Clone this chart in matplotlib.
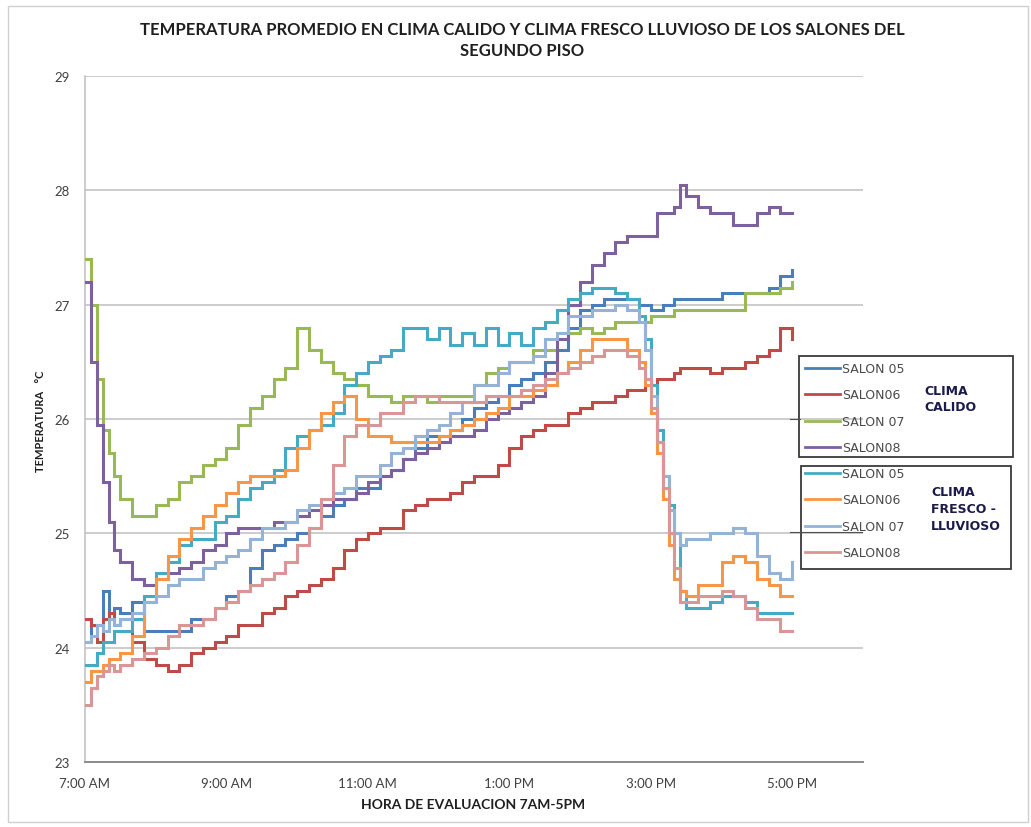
import matplotlib
matplotlib.use("Agg")
import matplotlib.pyplot as plt
from matplotlib.patches import Rectangle

# ---------------- data ----------------
horas = ["7:00", "7:05", "7:10", "7:15", "7:20", "7:25", "7:30", "7:40", "7:50",
         "8:00", "8:10", "8:20", "8:30", "8:40", "8:50",
         "9:00", "9:10", "9:20", "9:30", "9:40", "9:50",
         "10:00", "10:10", "10:20", "10:30", "10:40", "10:50",
         "11:00", "11:10", "11:20", "11:30", "11:40", "11:50",
         "12:00", "12:10", "12:20", "12:30", "12:40", "12:50",
         "13:00", "13:10", "13:20", "13:30", "13:40", "13:50",
         "14:00", "14:10", "14:20", "14:30", "14:40", "14:50", "14:55",
         "15:00", "15:05", "15:10", "15:15", "15:20", "15:25", "15:30", "15:40", "15:50",
         "16:00", "16:10", "16:20", "16:30", "16:40", "16:50",
         "17:00"]

# Clima calido
salon05_calido = [24.05, 24.2, 24.2, 24.5, 24.25, 24.35, 24.3, 24.4, 24.15,
                  24.15, 24.15, 24.15, 24.25, 24.25, 24.35,
                  24.45, 24.5, 24.7, 24.85, 24.9, 24.95,
                  25.0, 25.05, 25.15, 25.25, 25.3, 25.4,
                  25.4, 25.5, 25.55, 25.65, 25.75, 25.85,
                  25.85, 25.9, 26.0, 26.1, 26.15, 26.2,
                  26.3, 26.35, 26.4, 26.5, 26.6, 26.8,
                  26.95, 27.0, 27.05, 27.05, 27.05, 27.0, 27.0,
                  26.95, 26.95, 27.0, 27.0, 27.05, 27.05, 27.05, 27.05, 27.05,
                  27.1, 27.1, 27.1, 27.1, 27.15, 27.25,
                  27.3]
salon06_calido = [24.25, 24.2, 24.05, 24.25, 24.3, 24.2, 24.25, 24.05, 23.9,
                  23.85, 23.8, 23.85, 23.95, 24.0, 24.05,
                  24.1, 24.2, 24.2, 24.3, 24.35, 24.45,
                  24.5, 24.55, 24.6, 24.7, 24.85, 24.95,
                  25.0, 25.05, 25.05, 25.2, 25.25, 25.3,
                  25.3, 25.35, 25.45, 25.5, 25.5, 25.6,
                  25.75, 25.85, 25.9, 25.95, 25.95, 26.05,
                  26.1, 26.15, 26.15, 26.2, 26.25, 26.25, 26.3,
                  26.3, 26.35, 26.35, 26.35, 26.4, 26.45, 26.45, 26.45, 26.4,
                  26.45, 26.45, 26.5, 26.55, 26.6, 26.8,
                  26.7]
salon07_calido = [27.4, 27.0, 26.35, 25.9, 25.7, 25.5, 25.3, 25.15, 25.15,
                  25.25, 25.3, 25.45, 25.5, 25.6, 25.65,
                  25.75, 25.95, 26.1, 26.2, 26.35, 26.45,
                  26.8, 26.6, 26.5, 26.4, 26.35, 26.3,
                  26.2, 26.2, 26.15, 26.2, 26.2, 26.15,
                  26.2, 26.2, 26.2, 26.3, 26.4, 26.45,
                  26.5, 26.5, 26.6, 26.6, 26.7, 26.75,
                  26.8, 26.75, 26.8, 26.85, 26.85, 26.85, 26.85,
                  26.9, 26.9, 26.9, 26.9, 26.95, 26.95, 26.95, 26.95, 26.95,
                  26.95, 26.95, 27.1, 27.1, 27.1, 27.15,
                  27.2]
salon08_calido = [27.2, 26.5, 25.95, 25.45, 25.1, 24.85, 24.75, 24.6, 24.55,
                  24.6, 24.65, 24.7, 24.75, 24.85, 24.9,
                  25.0, 25.05, 25.05, 25.05, 25.1, 25.1,
                  25.15, 25.2, 25.25, 25.3, 25.3, 25.35,
                  25.45, 25.5, 25.55, 25.65, 25.7, 25.75,
                  25.8, 25.85, 25.85, 25.9, 26.0, 26.05,
                  26.1, 26.15, 26.2, 26.4, 26.7, 27.0,
                  27.2, 27.35, 27.45, 27.55, 27.6, 27.6, 27.6,
                  27.6, 27.8, 27.8, 27.8, 27.85, 28.05, 27.95, 27.85, 27.8,
                  27.8, 27.7, 27.7, 27.8, 27.85, 27.8,
                  27.8]

# Clima fresco - lluvioso
salon05_fresco = [23.85, 23.85, 23.95, 24.05, 24.05, 24.15, 24.15, 24.25, 24.45,
                  24.65, 24.75, 24.9, 24.95, 24.95, 25.1,
                  25.15, 25.3, 25.4, 25.45, 25.55, 25.75,
                  25.85, 25.9, 25.95, 26.05, 26.3, 26.4,
                  26.5, 26.55, 26.6, 26.8, 26.8, 26.7,
                  26.8, 26.65, 26.75, 26.65, 26.8, 26.65,
                  26.75, 26.65, 26.8, 26.85, 26.95, 27.05,
                  27.1, 27.15, 27.15, 27.1, 27.05, 26.9, 26.7,
                  26.3, 25.9, 25.5, 25.25, 25.0, 24.5, 24.35, 24.35, 24.4,
                  24.45, 24.45, 24.4, 24.3, 24.3, 24.3,
                  24.3]
salon06_fresco = [23.7, 23.8, 23.8, 23.85, 23.9, 23.9, 23.95, 24.1, 24.4,
                  24.6, 24.8, 24.95, 25.05, 25.15, 25.25,
                  25.35, 25.45, 25.5, 25.5, 25.5, 25.55,
                  25.75, 25.9, 26.05, 26.15, 26.2, 26.0,
                  25.85, 25.85, 25.8, 25.8, 25.8, 25.8,
                  25.85, 25.9, 25.95, 26.0, 26.05, 26.1,
                  26.2, 26.2, 26.25, 26.3, 26.4, 26.5,
                  26.6, 26.7, 26.7, 26.7, 26.6, 26.5, 26.3,
                  26.05, 25.7, 25.3, 24.9, 24.6, 24.5, 24.45, 24.55, 24.55,
                  24.75, 24.8, 24.75, 24.6, 24.55, 24.45,
                  24.45]
salon07_fresco = [24.05, 24.1, 24.2, 24.15, 24.25, 24.2, 24.25, 24.3, 24.4,
                  24.45, 24.55, 24.6, 24.6, 24.7, 24.75,
                  24.8, 24.85, 24.95, 25.05, 25.05, 25.1,
                  25.2, 25.25, 25.3, 25.35, 25.4, 25.5,
                  25.5, 25.6, 25.7, 25.75, 25.85, 25.9,
                  25.95, 26.05, 26.15, 26.3, 26.3, 26.4,
                  26.5, 26.5, 26.55, 26.7, 26.75, 26.9,
                  26.9, 26.95, 26.95, 27.0, 26.95, 26.85, 26.6,
                  26.2, 25.8, 25.5, 25.2, 25.0, 24.9, 24.95, 24.95, 25.0,
                  25.0, 25.05, 25.0, 24.8, 24.65, 24.6,
                  24.75]
salon08_fresco = [23.5, 23.65, 23.75, 23.8, 23.85, 23.8, 23.85, 23.9, 23.95,
                  24.0, 24.1, 24.2, 24.2, 24.25, 24.35,
                  24.4, 24.5, 24.55, 24.6, 24.65, 24.75,
                  24.9, 25.05, 25.3, 25.6, 25.85, 25.95,
                  25.95, 26.05, 26.05, 26.15, 26.2, 26.2,
                  26.15, 26.15, 26.15, 26.15, 26.2, 26.2,
                  26.2, 26.25, 26.3, 26.35, 26.4, 26.45,
                  26.5, 26.55, 26.6, 26.6, 26.55, 26.45, 26.35,
                  26.1, 25.8, 25.4, 25.0, 24.7, 24.4, 24.4, 24.45, 24.45,
                  24.5, 24.45, 24.35, 24.25, 24.25, 24.15,
                  24.15]

etiquetas_calido = ["SALON 05", "SALON06", "SALON 07", "SALON08"]
etiquetas_fresco = ["SALON 05", "SALON06", "SALON 07", "SALON08"]

ticks_horas = [7, 9, 11, 13, 15, 17]
ticks_texto = ["7:00 AM", "9:00 AM", "11:00 AM", "1:00 PM", "3:00 PM", "5:00 PM"]
ticks_temp = [23, 24, 25, 26, 27, 28, 29]

colores_calido = ["#4A7EBB", "#BE4B48", "#98B954", "#7D60A0"]
colores_fresco = ["#46AAC5", "#F79646", "#95B3D7", "#D99694"]


def a_horas(hhmm):
    h, m = hhmm.split(":")
    return int(h) + int(m) / 60.0


t = [a_horas(h) for h in horas]

# ---------------- figure ----------------
W, H = 1031, 828
fig = plt.figure(figsize=(W / 100, H / 100), dpi=100)
fig.patch.set_facecolor("white")

ax = fig.add_axes([85 / W, 65 / H, 778 / W, 686 / H])
ax.set_xlim(7, 18)
ax.set_ylim(23, 29)

series_calido = [salon05_calido, salon06_calido, salon07_calido, salon08_calido]
series_fresco = [salon05_fresco, salon06_fresco, salon07_fresco, salon08_fresco]

lineas_calido = []
for vals, col in zip(series_calido, colores_calido):
    ln, = ax.plot(t, vals, color=col, lw=2.2, drawstyle="steps-post",
                  solid_joinstyle="miter", zorder=3)
    lineas_calido.append(ln)
lineas_fresco = []
for vals, col in zip(series_fresco, colores_fresco):
    ln, = ax.plot(t, vals, color=col, lw=2.2, drawstyle="steps-post",
                  solid_joinstyle="miter", zorder=3)
    lineas_fresco.append(ln)

# grid / spines
ax.set_yticks(ticks_temp)
ax.set_xticks(ticks_horas)
ax.set_xticklabels(ticks_texto)
ax.grid(axis="y", color="#BEBEBE", lw=1.1, zorder=0)
ax.grid(axis="x", visible=False)
for s in ["top", "right"]:
    ax.spines[s].set_visible(False)
ax.spines["left"].set_color("#BEBEBE")
ax.spines["left"].set_linewidth(1.1)
ax.spines["bottom"].set_color("#8C8C8C")
ax.spines["bottom"].set_linewidth(1.4)
ax.tick_params(axis="both", length=0, labelsize=9.5, labelcolor="#404040")
ax.tick_params(axis="y", pad=11)
ax.tick_params(axis="x", pad=11)
for lab in ax.get_xticklabels() + ax.get_yticklabels():
    lab.set_fontfamily("Lato")

# titles
fig.text(522 / W, 1 - 30 / H,
         "TEMPERATURA PROMEDIO EN CLIMA CALIDO Y CLIMA FRESCO LLUVIOSO DE LOS SALONES DEL",
         ha="center", va="center", fontsize=12, fontweight="bold",
         family="Lato", color="#1F1F1F")
fig.text(522 / W, 1 - 51 / H, "SEGUNDO PISO",
         ha="center", va="center", fontsize=12, fontweight="bold",
         family="Lato", color="#1F1F1F")
fig.text(473 / W, 1 - 805 / H, "HORA DE EVALUACION 7AM-5PM",
         ha="center", va="center", fontsize=10, fontweight="bold",
         family="Lato", color="#1F1F1F")
fig.text(40 / W, 1 - 421 / H, "TEMPERATURA   °C", rotation=90,
         ha="center", va="center", fontsize=8, fontweight="bold",
         family="Lato", color="#1F1F1F")

# legends (two groups)
leg_kw = dict(frameon=False, fontsize=9, labelcolor="#4A4A4A",
              handlelength=2.8, handletextpad=0.15, labelspacing=1.08,
              borderpad=0, borderaxespad=0, loc="upper left",
              bbox_transform=fig.transFigure)
leg1 = ax.legend(lineas_calido, etiquetas_calido,
                 bbox_to_anchor=(805 / W, 1 - 363 / H), **leg_kw)
for h in leg1.legend_handles:
    h.set_linewidth(2.0)
ax.add_artist(leg1)
leg2 = ax.legend(lineas_fresco, etiquetas_fresco,
                 bbox_to_anchor=(805 / W, 1 - 468 / H), **leg_kw)
for h in leg2.legend_handles:
    h.set_linewidth(2.0)

# legend frames and group labels
over = fig.add_axes([0, 0, 1, 1], zorder=5)
over.set_xlim(0, W)
over.set_ylim(H, 0)
over.axis("off")
over.patch.set_alpha(0)
over.add_patch(Rectangle((799, 357), 214, 101, fill=False, ec="#3A3A3A", lw=1.3))
over.add_patch(Rectangle((801, 467), 210, 103, fill=False, ec="#3A3A3A", lw=1.3))
over.plot([790, 800], [420, 420], color="#505050", lw=0.8)
over.plot([790, 862], [533, 533], color="#505050", lw=0.8)
grupo_kw = dict(fontsize=9, fontweight="bold", color="#1B1B4A",
                family="DejaVu Sans", va="center", ha="left")
over.text(924, 392, "CLIMA", **grupo_kw)
over.text(924, 408, "CALIDO", **grupo_kw)
over.text(931, 493, "CLIMA", **grupo_kw)
over.text(931, 510, "FRESCO -", **grupo_kw)
over.text(931, 527, "LLUVIOSO", **grupo_kw)
# outer chart border
over.add_patch(Rectangle((8, 7), 1020, 816, fill=False, ec="#D0D0D0", lw=1.0))

fig.savefig("out.png", dpi=100, facecolor="white")
